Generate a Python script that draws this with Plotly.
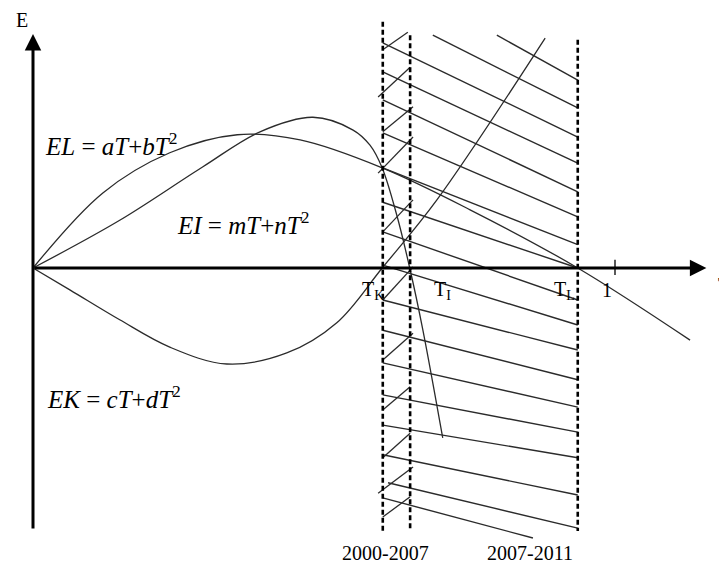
import plotly.graph_objects as go

# sketch values; T scaled so the tick "1" sits at T=1
EL_T = [0, 0.120, 0.235, 0.351, 0.459, 0.600, 0.751, 0.936, 1.129]
EL_E = [0, 0.129, 0.198, 0.229, 0.220, 0.172, 0.100, 0.0, -0.124]

EI_T = [0, 0.149, 0.292, 0.390, 0.481, 0.550, 0.579, 0.600, 0.625, 0.648, 0.670, 0.704]
EI_E = [0, 0.082, 0.174, 0.234, 0.259, 0.237, 0.211, 0.172, 0.091, -0.003, -0.107, -0.292]

EK_T = [0, 0.064, 0.149, 0.235, 0.333, 0.436, 0.522, 0.600, 0.694, 0.880]
EK_E = [0, -0.038, -0.089, -0.136, -0.165, -0.146, -0.094, 0.0, 0.117, 0.395]

T_K, T_I, T_L = 0.601, 0.648, 0.936

# long hatch lines across the 2007-2011 band
hatch_T0 = [0.797, 0.687, 0.601, 0.601, 0.601, 0.601, 0.601, 0.601, 0.601, 0.601,
            0.601, 0.601, 0.601, 0.601, 0.601, 0.601, 0.610, 0.601]
hatch_E0 = [0.400, 0.400, 0.387, 0.337, 0.289, 0.232, 0.172, 0.113, 0.062, 0.005,
            -0.055, -0.107, -0.163, -0.218, -0.270, -0.321, -0.369, -0.395]
hatch_T1 = [0.936] * 17 + [0.859]
hatch_E1 = [0.323, 0.275, 0.225, 0.180, 0.131, 0.088, 0.040, 0.0, -0.055, -0.098,
            -0.141, -0.192, -0.239, -0.282, -0.326, -0.390, -0.447, -0.464]

# short zigzag strokes inside the 2000-2007 band
zig_T0 = [0.601, 0.593, 0.601, 0.593, 0.601, 0.601, 0.601, 0.601, 0.601, 0.593, 0.601]
zig_E0 = [0.375, 0.294, 0.234, 0.163, 0.062, -0.055, -0.158, -0.244, -0.326, -0.387, -0.428]
zig_T1 = [0.644, 0.648, 0.653, 0.653, 0.653, 0.653, 0.653, 0.648, 0.648, 0.653, 0.648]
zig_E1 = [0.405, 0.345, 0.277, 0.225, 0.117, 0.002, -0.112, -0.204, -0.284, -0.342, -0.393]

band_labels = ["2000-2007", "2007-2011"]
point_labels = ["T<sub>K</sub>", "T<sub>I</sub>", "T<sub>L</sub>", "1"]

ink = "#2b2b2b"
serif = "Liberation Serif, Times New Roman, serif"


def segments(x0, y0, x1, y1):
    xs, ys = [], []
    for a, b, c, d in zip(x0, y0, x1, y1):
        xs += [a, c, None]
        ys += [b, d, None]
    return xs, ys


fig = go.Figure()

for t, e in [(EL_T, EL_E), (EI_T, EI_E), (EK_T, EK_E)]:
    fig.add_trace(go.Scatter(x=t, y=e, mode="lines", line=dict(color=ink, width=1.3, shape="spline", smoothing=1.0),
                             hoverinfo="skip"))

hx, hy = segments(hatch_T0, hatch_E0, hatch_T1, hatch_E1)
fig.add_trace(go.Scatter(x=hx, y=hy, mode="lines", line=dict(color=ink, width=1.4), hoverinfo="skip"))
zx, zy = segments(zig_T0, zig_E0, zig_T1, zig_E1)
fig.add_trace(go.Scatter(x=zx, y=zy, mode="lines", line=dict(color=ink, width=1.3), hoverinfo="skip"))

# dashed band borders
for tv, top in [(T_K, 0.423), (T_I, 0.400), (T_L, 0.392)]:
    fig.add_trace(go.Scatter(x=[tv, tv], y=[top, -0.452], mode="lines",
                             line=dict(color="black", width=2.6, dash="5px,3px"), hoverinfo="skip"))

# tick at T = 1
fig.add_trace(go.Scatter(x=[1, 1], y=[0.014, -0.012], mode="lines", line=dict(color="black", width=1.3),
                         hoverinfo="skip"))

# axes with arrows
fig.add_annotation(x=1.157, y=0, ax=0, ay=0, xref="x", yref="y", axref="x", ayref="y",
                   showarrow=True, arrowhead=2, arrowsize=1.1, arrowwidth=3, arrowcolor="black", text="")
fig.add_annotation(x=0, y=0.402, ax=0, ay=-0.450, xref="x", yref="y", axref="x", ayref="y",
                   showarrow=True, arrowhead=2, arrowsize=1.1, arrowwidth=3, arrowcolor="black", text="")

txt = dict(showarrow=False, font=dict(family=serif, size=20, color="black"))
fig.add_annotation(x=-0.019, y=0.426, text="E", **txt)
fig.add_annotation(x=1.173, y=-0.030, text="T", xanchor="left", **txt)
for tv, lab in zip([0.584, 0.703, 0.914, 0.986], point_labels):
    fig.add_annotation(x=tv, y=-0.038, text=lab, **txt)
for tv, lab in zip([0.605, 0.854], band_labels):
    fig.add_annotation(x=tv, y=-0.490, text=lab, **txt)

eq = dict(showarrow=False, font=dict(family=serif, size=25, color="black"))
fig.add_annotation(x=0.134, y=0.213, text="<i>EL</i> = <i>aT</i>+<i>bT</i><sup>2</sup>", **eq)
fig.add_annotation(x=0.361, y=0.077, text="<i>EI</i> = <i>mT</i>+<i>nT</i><sup>2</sup>", **eq)
fig.add_annotation(x=0.139, y=-0.222, text="<i>EK</i> = <i>cT</i>+<i>dT</i><sup>2</sup>", **eq)

fig.update_xaxes(visible=False, range=[-0.0567, 1.1787])
fig.update_yaxes(visible=False, range=[-0.5155, 0.4605])
fig.update_layout(width=719, height=568, margin=dict(l=0, r=0, t=0, b=0),
                  plot_bgcolor="white", paper_bgcolor="white", showlegend=False)

fig.write_html("out.html", config={"displayModeBar": False},
               post_script="document.body.style.margin='0';")
